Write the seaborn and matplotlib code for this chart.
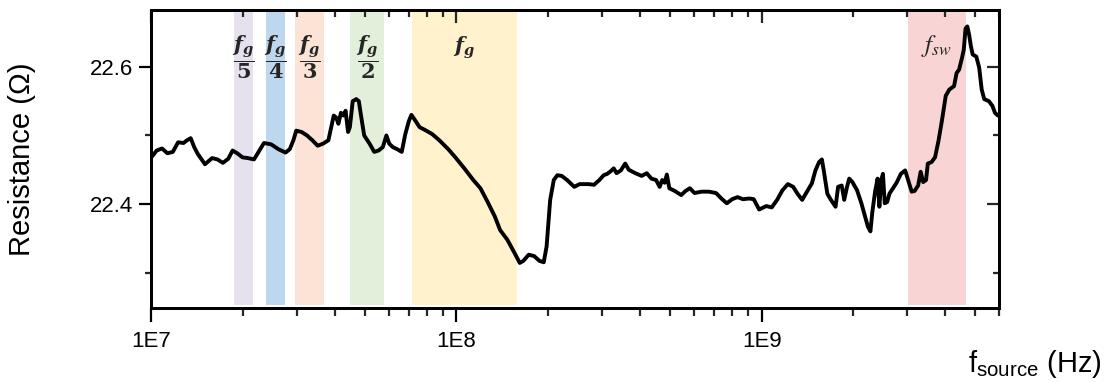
import matplotlib
matplotlib.use("Agg")
import matplotlib.pyplot as plt
import matplotlib.ticker as mticker
import matplotlib.transforms as mtransforms
import numpy as np
import pandas as pd
import seaborn as sns

# ---------------- data ----------------
freq_hz = [
    1.000e7, 1.041e7, 1.084e7, 1.129e7, 1.176e7, 1.224e7, 1.275e7, 1.310e7, 1.346e7, 1.382e7,
    1.420e7, 1.499e7, 1.582e7, 1.648e7, 1.716e7, 1.787e7, 1.846e7, 1.912e7, 1.990e7, 2.073e7,
    2.170e7, 2.247e7, 2.340e7, 2.470e7, 2.608e7, 2.752e7, 2.843e7, 2.921e7, 2.985e7, 3.108e7,
    3.236e7, 3.370e7, 3.509e7, 3.654e7, 3.804e7, 3.887e7, 3.961e7, 4.037e7, 4.103e7, 4.181e7,
    4.261e7, 4.331e7, 4.413e7, 4.473e7, 4.571e7, 4.696e7, 4.786e7, 4.878e7, 4.984e7, 5.191e7,
    5.377e7, 5.553e7, 5.736e7, 5.892e7, 6.021e7, 6.185e7, 6.389e7, 6.616e7, 6.797e7, 6.983e7,
    7.117e7, 7.272e7, 7.573e7, 7.886e7, 8.324e7, 8.784e7, 9.397e7, 9.919e7, 1.061e8, 1.135e8,
    1.198e8, 1.265e8, 1.335e8, 1.390e8, 1.467e8, 1.548e8, 1.612e8, 1.656e8, 1.725e8, 1.797e8,
    1.871e8, 1.932e8, 1.974e8, 2.028e8, 2.084e8, 2.141e8,
    2.212e8, 2.304e8, 2.432e8, 2.532e8, 2.710e8, 2.823e8, 2.940e8, 3.037e8, 3.120e8, 3.206e8,
    3.276e8, 3.347e8, 3.458e8, 3.572e8, 3.670e8, 3.853e8, 4.046e8, 4.202e8, 4.353e8, 4.509e8,
    4.633e8, 4.722e8, 4.812e8, 4.891e8, 4.984e8, 5.192e8, 5.452e8, 5.632e8, 5.818e8, 6.026e8,
    6.361e8, 6.716e8, 7.089e8, 7.383e8, 7.689e8, 8.008e8, 8.340e8, 8.686e8, 9.120e8, 9.421e8,
    9.813e8, 1.036e9, 1.079e9, 1.124e9, 1.170e9, 1.219e9, 1.269e9, 1.311e9, 1.358e9, 1.395e9,
    1.434e9, 1.461e9, 1.501e9, 1.542e9, 1.576e9, 1.598e9, 1.642e9, 1.687e9, 1.747e9, 1.781e9,
    1.830e9, 1.865e9, 1.905e9, 1.937e9, 1.984e9, 2.055e9, 2.123e9, 2.182e9, 2.230e9, 2.273e9,
    2.304e9, 2.354e9, 2.399e9, 2.432e9, 2.465e9, 2.498e9, 2.532e9, 2.580e9, 2.623e9, 2.695e9,
    2.769e9, 2.860e9, 2.954e9, 3.020e9, 3.103e9, 3.171e9, 3.258e9, 3.320e9, 3.384e9, 3.458e9,
    3.505e9, 3.602e9, 3.701e9, 3.802e9, 3.906e9, 4.013e9, 4.124e9, 4.272e9, 4.354e9, 4.437e9,
    4.535e9, 4.597e9, 4.659e9, 4.722e9, 4.786e9, 4.852e9, 4.918e9, 5.053e9, 5.164e9, 5.263e9,
    5.364e9, 5.556e9, 5.708e9, 5.817e9, 5.945e9,
]

resistance_ohm = [
    22.468, 22.478, 22.481, 22.474, 22.476, 22.490, 22.489, 22.493, 22.496, 22.483,
    22.473, 22.458, 22.467, 22.465, 22.460, 22.466, 22.478, 22.474, 22.468, 22.467,
    22.465, 22.476, 22.489, 22.487, 22.480, 22.475, 22.480, 22.493, 22.507, 22.505,
    22.500, 22.493, 22.485, 22.488, 22.493, 22.512, 22.529, 22.526, 22.517, 22.533,
    22.529, 22.536, 22.505, 22.512, 22.550, 22.553, 22.550, 22.526, 22.500, 22.488,
    22.476, 22.478, 22.483, 22.500, 22.488, 22.483, 22.480, 22.476, 22.502, 22.521,
    22.530, 22.524, 22.512, 22.508, 22.502, 22.493, 22.480, 22.468, 22.452, 22.435,
    22.423, 22.403, 22.382, 22.362, 22.348, 22.329, 22.314, 22.317, 22.326, 22.324,
    22.317, 22.315, 22.338, 22.406, 22.435, 22.442,
    22.441, 22.435, 22.425, 22.429, 22.429, 22.428, 22.435, 22.442, 22.444, 22.448,
    22.452, 22.445, 22.449, 22.459, 22.450, 22.445, 22.441, 22.445, 22.437, 22.435,
    22.425, 22.435, 22.431, 22.443, 22.423, 22.419, 22.413, 22.419, 22.423, 22.416,
    22.418, 22.418, 22.416, 22.408, 22.401, 22.407, 22.410, 22.407, 22.408, 22.407,
    22.392, 22.397, 22.395, 22.406, 22.420, 22.429, 22.425, 22.415, 22.406, 22.415,
    22.424, 22.430, 22.449, 22.461, 22.465, 22.449, 22.415, 22.406, 22.396, 22.425,
    22.427, 22.406, 22.425, 22.437, 22.432, 22.420, 22.401, 22.382, 22.367, 22.360,
    22.387, 22.418, 22.437, 22.396, 22.435, 22.444, 22.401, 22.403, 22.415, 22.423,
    22.431, 22.444, 22.449, 22.435, 22.418, 22.419, 22.427, 22.447, 22.432, 22.435,
    22.459, 22.461, 22.468, 22.493, 22.524, 22.558, 22.567, 22.572, 22.591, 22.596,
    22.613, 22.625, 22.656, 22.659, 22.647, 22.630, 22.618, 22.615, 22.599, 22.567,
    22.553, 22.550, 22.543, 22.533, 22.529,
]

band_low_hz = [1.867e7, 2.37e7, 2.95e7, 4.49e7, 7.13e7, 3.02e9]
band_high_hz = [2.154e7, 2.74e7, 3.67e7, 5.80e7, 1.576e8, 4.66e9]
band_labels = [r"$\dfrac{f_g}{\mathbf{5}}$", r"$\dfrac{f_g}{\mathbf{4}}$",
               r"$\dfrac{f_g}{\mathbf{3}}$", r"$\dfrac{f_g}{\mathbf{2}}$",
               r"$f_g$", r"$f_{sw}$"]
band_colors = ["#E7E1EF", "#BDD7EE", "#FBE3D6", "#E2EFDA", "#FFF2CC", "#F9D4D4"]

x_ticks = [1e7, 1e8, 1e9]
x_tick_labels = ["1E7", "1E8", "1E9"]
x_limits = (1e7, 6e9)
y_limits = (22.249, 22.683)

# ---------------- style ----------------
sns.set_style("ticks")
plt.rcParams["font.family"] = ["Liberation Sans", "DejaVu Sans"]
plt.rcParams["mathtext.fontset"] = "custom"
plt.rcParams["mathtext.rm"] = "DejaVu Serif:bold"
plt.rcParams["mathtext.it"] = "DejaVu Serif:italic:bold"
plt.rcParams["mathtext.bf"] = "DejaVu Serif:bold"

fig = plt.figure(figsize=(11.07, 3.83), dpi=100)
ax = fig.add_axes([0.1367, 0.1971, 0.7658, 0.7768])

df = pd.DataFrame({"freq": freq_hz, "res": resistance_ohm})

# bands
for lo, hi, col in zip(band_low_hz, band_high_hz, band_colors):
    ax.axvspan(lo, hi, ymin=0.008, ymax=1.0, color=col, lw=0, zorder=0)

sns.lineplot(data=df, x="freq", y="res", ax=ax, color="black", linewidth=2.8,
             sort=False, estimator=None, zorder=3)

ax.set_xscale("log")
ax.set_xlim(*x_limits)
ax.set_ylim(*y_limits)
ax.set_xlabel("")
ax.set_ylabel("")

ax.xaxis.set_major_locator(mticker.FixedLocator(x_ticks))
ax.xaxis.set_major_formatter(mticker.FixedFormatter(x_tick_labels))
ax.xaxis.set_minor_locator(mticker.LogLocator(base=10, subs=np.arange(2, 10)))
ax.xaxis.set_minor_formatter(mticker.NullFormatter())
ax.yaxis.set_major_locator(mticker.MultipleLocator(0.2))
ax.yaxis.set_minor_locator(mticker.MultipleLocator(0.1))
ax.yaxis.set_major_formatter(mticker.FormatStrFormatter("%.1f"))

ax.tick_params(axis="x", which="major", direction="out", length=10, width=1.6,
               labelsize=16, pad=7, colors="black")
ax.tick_params(axis="x", which="minor", direction="out", length=5.5, width=1.6)
ax.tick_params(axis="y", which="major", direction="out", length=9, width=1.6,
               labelsize=16, pad=4, colors="black")
ax.tick_params(axis="y", which="minor", direction="out", length=4.5, width=1.6)
for sp in ax.spines.values():
    sp.set_visible(True)
    sp.set_linewidth(2)
    sp.set_color("black")

# mirrored inward ticks on top and right
axt = ax.twiny()
axt.set_xscale("log")
axt.set_xlim(*x_limits)
axt.xaxis.set_major_locator(mticker.FixedLocator(x_ticks))
axt.xaxis.set_minor_locator(mticker.LogLocator(base=10, subs=np.arange(2, 10)))
axt.xaxis.set_minor_formatter(mticker.NullFormatter())
axt.tick_params(axis="x", which="major", direction="in", length=9, width=1.6, labeltop=False)
axt.tick_params(axis="x", which="minor", direction="in", length=5, width=1.6)
axr = ax.twinx()
axr.set_ylim(*y_limits)
axr.yaxis.set_major_locator(mticker.MultipleLocator(0.2))
axr.yaxis.set_minor_locator(mticker.MultipleLocator(0.1))
axr.tick_params(axis="y", which="major", direction="in", length=9, width=1.6, labelright=False)
axr.tick_params(axis="y", which="minor", direction="in", length=4.5, width=1.6)
for a in (axt, axr):
    for sp in a.spines.values():
        sp.set_linewidth(2)
        sp.set_color("black")

# band labels
trans = mtransforms.blended_transform_factory(ax.transData, ax.transAxes)
for i, (lo, hi, lab) in enumerate(zip(band_low_hz, band_high_hz, band_labels)):
    xc = np.sqrt(lo * hi)
    if i < 4:
        ax.text(xc, 0.843, lab, transform=trans, ha="center", va="center",
                fontsize=15, color="#262626", zorder=5)
    elif i == 4:
        ax.text(xc, 0.872, lab, transform=trans, ha="center", va="center",
                fontsize=15, color="#262626", zorder=5)
    else:
        ax.text(xc, 0.879, lab, transform=trans, ha="center", va="center",
                fontsize=18, color="#262626", math_fontfamily="stix", zorder=5)

# axis titles
fig.text(22 / 1107, 0.5855, "Resistance (Ω)", rotation=90, ha="center", va="center",
         fontsize=21, color="black")
fig.text(0.995, 1 - 372 / 383, r"f$_{\mathregular{source}}$ (Hz)", ha="right",
         va="baseline", fontsize=21, color="black")

fig.savefig("out.png", dpi=100)
